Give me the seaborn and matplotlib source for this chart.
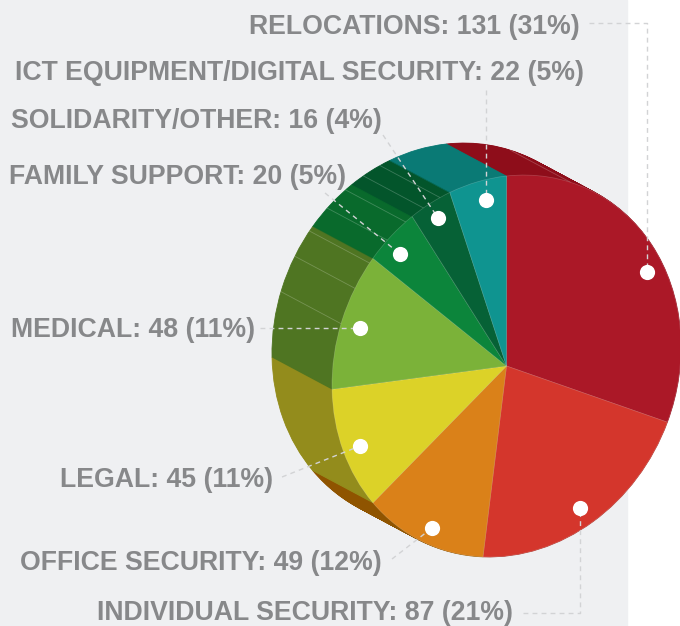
import numpy as np
import matplotlib.pyplot as plt
import seaborn as sns
from matplotlib.transforms import Affine2D

categories = ['RELOCATIONS', 'INDIVIDUAL SECURITY', 'OFFICE SECURITY', 'LEGAL', 'MEDICAL',
              'FAMILY SUPPORT', 'SOLIDARITY/OTHER', 'ICT EQUIPMENT/DIGITAL SECURITY']
counts = [131, 87, 49, 45, 48, 20, 16, 22]
percents = [31, 21, 12, 11, 11, 5, 4, 5]

top_colors = ['#ab1827', '#d4362c', '#da8119', '#dcd228', '#7bb239', '#0c853b', '#066136', '#0f9490']
side_colors = ['#8e0d1a', '#a52a22', '#8f5400', '#938c1c', '#4f7522', '#096a2c', '#03552b', '#0a7a75']

# hairlines on the side faces, in counts going anticlockwise from the top
seams = [-25, 26, 33, 41, 50, 60, 70, 83]

# right edge of text, centre y of text
label_pos = [(580, 26.5), (513, 613.5), (382, 563), (273, 480), (255, 330), (346, 177.5), (382, 121.5), (584, 72.5)]
dots = [(647, 272), (580, 508), (432, 528), (360, 446), (360, 328), (400, 254), (438, 218), (486, 200)]
leaders = [
    [(589, 23), (647, 23), (647, 272)],
    [(523, 613), (580, 613), (580, 508)],
    [(392, 559), (432, 528)],
    [(282, 477), (360, 446)],
    [(260, 328), (360, 328)],
    [(325, 193), (400, 254)],
    [(383, 135), (438, 218)],
    [(486, 90), (486, 200)],
]

sns.set_theme(style='white')
plt.rcParams['font.family'] = ['Liberation Sans', 'DejaVu Sans']

fig = plt.figure(figsize=(6.8, 6.26), dpi=100)
ax = fig.add_axes([0, 0, 1, 1])

# isometric skew of the unit pie, in pixel coordinates
skew = Affine2D.from_values(174.5, -19, 0, -190, 506.5, 366)
shift_x, shift_y = -60, -32

# side faces: the dark pie swept from the far position to the front
for f in np.linspace(1, 0, 61):
    wedges, _ = ax.pie(counts, colors=sns.color_palette(side_colors), startangle=90, counterclock=False,
                       wedgeprops={'linewidth': 0.6, 'antialiased': True})
    for w, c in zip(wedges, side_colors):
        w.set_edgecolor(c)
        w.set_transform(skew + Affine2D().translate(shift_x * f, shift_y * f) + ax.transData)

for s in seams:
    t = np.deg2rad(90 + s / sum(counts) * 360)
    x0, y0 = skew.transform((np.cos(t), np.sin(t)))
    ax.plot([x0, x0 + shift_x], [y0, y0 + shift_y], color='white', alpha=0.22, lw=0.6, zorder=2)

wedges, _ = ax.pie(counts, colors=sns.color_palette(top_colors), startangle=90, counterclock=False,
                   wedgeprops={'linewidth': 0.5})
for w in wedges:
    w.set_edgecolor((1, 1, 1, 0.2))
    w.set_transform(skew + ax.transData)
    w.set_zorder(3)

ax.set_aspect('auto')
ax.set_xlim(0, 680)
ax.set_ylim(626, 0)
ax.axis('off')
# grey panel, stops short of the right edge
fig.patches.append(plt.Rectangle((0, 0), 627 / 680, 1, transform=fig.transFigure, color='#eff0f2', zorder=-5))

for path in leaders:
    xs, ys = zip(*path)
    ax.plot(xs, ys, color='#d2d3d5', lw=1, dashes=(3.5, 3), zorder=4)
ax.scatter(*zip(*dots), s=120, color='white', linewidths=0, zorder=5)

for name, n, p, (x, y) in zip(categories, counts, percents, label_pos):
    ax.text(x, y, f'{name}: {n} ({p}%)', ha='right', va='center', fontsize=19.2, fontweight='bold',
            color='#87888a', zorder=6)

fig.savefig('out.png', dpi=100)
